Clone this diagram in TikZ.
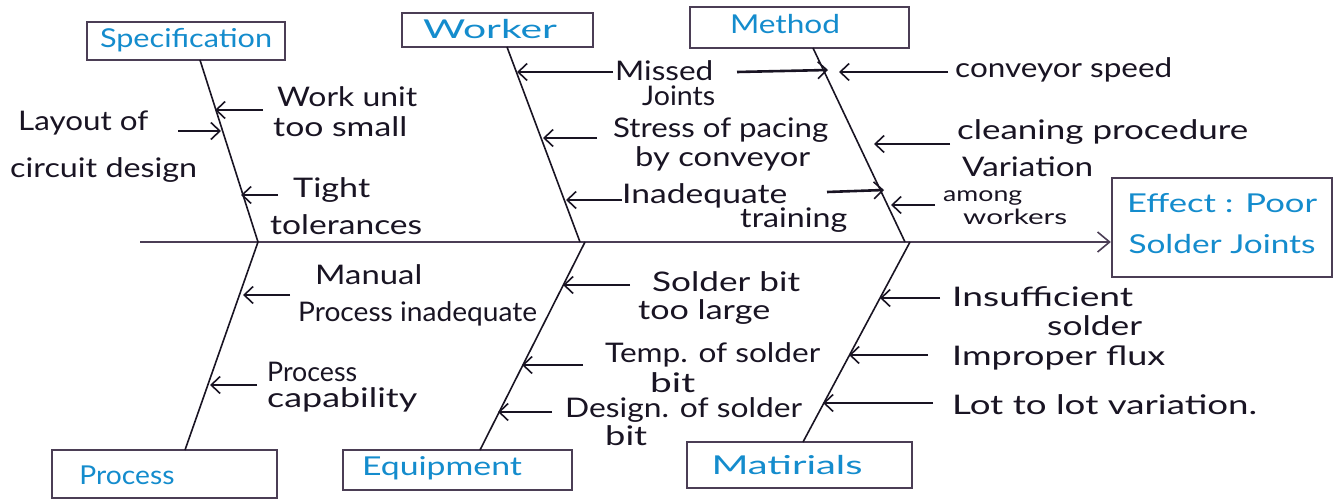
\documentclass[tikz,border=0pt]{standalone}
\usepackage{fontspec}
\setmainfont{Lato}
\usetikzlibrary{arrows.meta,calc}
\definecolor{ink}{RGB}{25,20,35}
\definecolor{frame}{RGB}{75,62,85}
\definecolor{pen}{RGB}{20,140,205}
% stretch a text horizontally to a given width (in pt), keeping its height
\newcommand{\fitw}[2]{\resizebox{#1pt}{\height}{#2}}
\tikzset{
  lbl/.style={anchor=west, inner sep=0pt, text=ink, font=\fontsize{27}{29}\selectfont},
  small/.style={font=\fontsize{21}{23}\selectfont},
  catbox/.style={draw=frame, line width=2.4pt, inner sep=0pt, rectangle},
  cattext/.style={inner sep=0pt, text=pen, font=\fontsize{26}{28}\selectfont},
  bone/.style={draw=ink, line width=1.6pt},
  cause/.style={draw=ink, line width=2.6pt, -{Straight Barb[length=9pt,width=17pt,line width=1.6pt]}},
  spine/.style={draw=frame, line width=2.2pt, -{Straight Barb[length=12pt,width=20pt,line width=1.6pt]}},
}
\begin{document}
\begin{tikzpicture}[x=1pt,y=-1pt]
\useasboundingbox[fill=white] (0,0) rectangle (1340,502);

% category boxes
\node[catbox, minimum width=198pt, minimum height=38pt] (spec) at (186,41) {};
\node[cattext] (specT) at (186,40) {\fitw{172}{Specification}};
\node[catbox, minimum width=191pt, minimum height=34pt] (work) at (497.5,30) {};
\node[cattext] (workT) at (490,29) {\fitw{134}{Worker}};
\node[catbox, minimum width=219pt, minimum height=41pt] (meth) at (799.5,27.5) {};
\node[cattext] (methT) at (785,24) {\fitw{110}{Method}};
\node[catbox, minimum width=225pt, minimum height=48pt] (proc) at (164.5,474) {};
\node[cattext] (procT) at (127,475) {\fitw{95}{Process}};
\node[catbox, minimum width=229pt, minimum height=40pt] (equip) at (457.5,470) {};
\node[cattext] (equipT) at (442,468) {\fitw{160}{Equipment}};
\node[catbox, minimum width=225pt, minimum height=46pt] (mat) at (799.5,465) {};
\node[cattext] (matT) at (787,465) {\fitw{151}{Matirials}};

% effect
\node[catbox, minimum width=220pt, minimum height=99pt] (eff) at (1222,227.5) {};
\node[cattext] (effT1) at (1222,203) {\fitw{190}{Effect : Poor}};
\node[cattext] (effT2) at (1222,244) {\fitw{187}{Solder Joints}};

% spine
\coordinate (spL) at (140,242);
\coordinate (spR) at (eff.west |- spL);
\draw[spine] (spL) -- (spR);

% bones
\coordinate (b1a) at (200,60);  \coordinate (b1b) at (258,242);
\coordinate (b2a) at (507,47);  \coordinate (b2b) at (580,242);
\coordinate (b3a) at (813,48);  \coordinate (b3b) at (905,242);
\coordinate (b4a) at (258,242); \coordinate (b4b) at (185,450);
\coordinate (b5a) at (585,242); \coordinate (b5b) at (480,450);
\coordinate (b6a) at (910,242); \coordinate (b6b) at (803,442);
\draw[bone] (b1a) -- (b1b);
\draw[bone] (b2a) -- (b2b);
\draw[bone] (b3a) -- (b3b);
\draw[bone] (b4a) -- (b4b);
\draw[bone] (b5a) -- (b5b);
\draw[bone] (b6a) -- (b6b);

% Specification causes
\node[lbl] (l1) at (18,123) {\fitw{130}{Layout of}};
\node[lbl] (l2) at (10,170) {\fitw{187}{circuit design}};
\node[lbl] (l3) at (277,97) {\fitw{140}{Work unit}};
\node[lbl] (l4) at (273,127) {\fitw{134}{too small}};
\node[lbl] (l5) at (293,190) {\fitw{77}{Tight}};
\node[lbl] (l6) at (270,225) {\fitw{152}{tolerances}};
\coordinate (a1s) at (263,110); \coordinate (a1e) at (215,110);
\coordinate (a2s) at (178,131); \coordinate (a2e) at (221,131);
\coordinate (a3s) at (278,195); \coordinate (a3e) at (241,195);
\draw[cause] (a1s) -- (a1e);
\draw[cause] (a2s) -- (a2e);
\draw[cause] (a3s) -- (a3e);

% Worker causes
\node[lbl] (l7) at (615,71) {\fitw{98}{Missed}};
\node[lbl] (l8) at (642,96) {\fitw{73}{Joints}};
\node[lbl] (l9) at (613,130) {\fitw{215}{Stress of pacing}};
\node[lbl] (l10) at (635,159) {\fitw{175}{by conveyor}};
\node[lbl] (l11) at (622,196) {\fitw{165}{Inadequate}};
\node[lbl] (l12) at (740,220) {\fitw{107}{training}};
\coordinate (a4s) at (613,72);  \coordinate (a4e) at (517,72);
\coordinate (a5s) at (597,138); \coordinate (a5e) at (543,138);
\coordinate (a6s) at (622,200); \coordinate (a6e) at (566,200);
\draw[cause] (a4s) -- (a4e);
\draw[cause] (a5s) -- (a5e);
\draw[cause] (a6s) -- (a6e);

% Method causes
\node[lbl] (l13) at (955,70) {\fitw{217}{conveyor speed}};
\node[lbl] (l14) at (957,132) {\fitw{291}{cleaning procedure}};
\node[lbl] (l15) at (962,167) {\fitw{131}{Variation}};
\node[lbl, small] (l16) at (943,198) {\fitw{79}{among}};
\node[lbl, small] (l17) at (963,217) {\fitw{104}{workers}};
\coordinate (a7s) at (737,72);  \coordinate (a7e) at (828,70);
\coordinate (a8s) at (948,72);  \coordinate (a8e) at (839,72);
\coordinate (a9s) at (950,144); \coordinate (a9e) at (874,144);
\coordinate (a10s) at (827,192); \coordinate (a10e) at (884,190);
\coordinate (a11s) at (935,205); \coordinate (a11e) at (891,205);
\draw[cause] (a7s) -- (a7e);
\draw[cause] (a8s) -- (a8e);
\draw[cause] (a9s) -- (a9e);
\draw[cause] (a10s) -- (a10e);
\draw[cause] (a11s) -- (a11e);

% Process causes
\node[lbl] (l18) at (315,275) {\fitw{107}{Manual}};
\node[lbl] (l19) at (298,314) {\fitw{239}{Process inadequate}};
\node[lbl] (l20) at (267,372) {\fitw{90}{Process}};
\node[lbl] (l21) at (267,400) {\fitw{150}{capability}};
\coordinate (a12s) at (290,295); \coordinate (a12e) at (243,295);
\coordinate (a13s) at (257,385); \coordinate (a13e) at (210,385);
\draw[cause] (a12s) -- (a12e);
\draw[cause] (a13s) -- (a13e);

% Equipment causes
\node[lbl] (l22) at (652,282) {\fitw{148}{Solder bit}};
\node[lbl] (l23) at (638,312) {\fitw{132}{too large}};
\node[lbl] (l24) at (605,355) {\fitw{215}{Temp. of solder}};
\node[lbl] (l25) at (650,383) {\fitw{45}{bit}};
\node[lbl] (l26) at (565,410) {\fitw{237}{Design. of solder}};
\node[lbl] (l27) at (605,436) {\fitw{42}{bit}};
\coordinate (a14s) at (630,285); \coordinate (a14e) at (563,285);
\coordinate (a15s) at (583,365); \coordinate (a15e) at (522,365);
\coordinate (a16s) at (552,412); \coordinate (a16e) at (498,412);
\draw[cause] (a14s) -- (a14e);
\draw[cause] (a15s) -- (a15e);
\draw[cause] (a16s) -- (a16e);

% Materials causes
\node[lbl] (l28) at (952,297) {\fitw{181}{Insufficient}};
\node[lbl] (l29) at (1047,326) {\fitw{95}{solder}};
\node[lbl] (l30) at (952,358) {\fitw{213}{Improper flux}};
\node[lbl] (l31) at (952,405) {\fitw{305}{Lot to lot variation.}};
\coordinate (a17s) at (940,298); \coordinate (a17e) at (880,298);
\coordinate (a18s) at (928,355); \coordinate (a18e) at (849,355);
\coordinate (a19s) at (933,403); \coordinate (a19e) at (823,403);
\draw[cause] (a17s) -- (a17e);
\draw[cause] (a18s) -- (a18e);
\draw[cause] (a19s) -- (a19e);
\end{tikzpicture}
\end{document}
